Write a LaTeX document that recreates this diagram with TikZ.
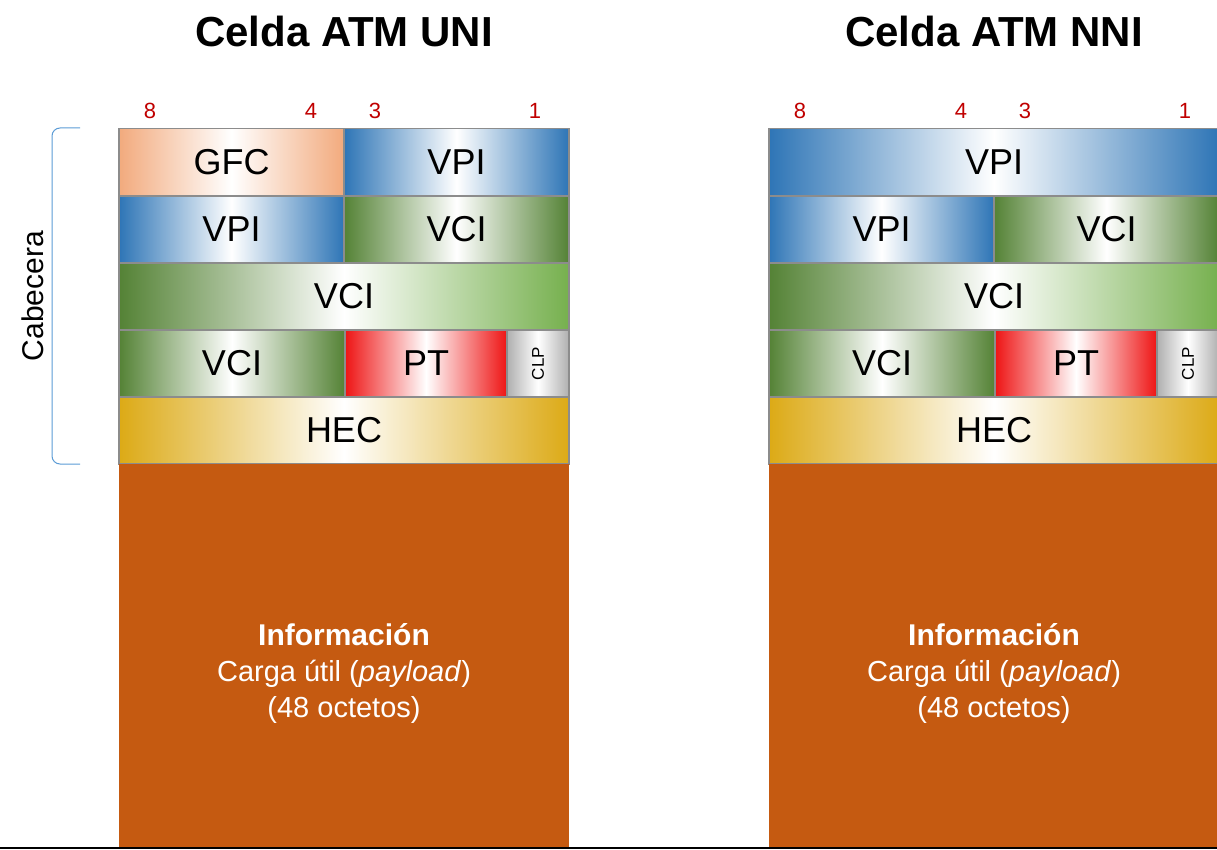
\documentclass[tikz,border=0pt]{standalone}
\usepackage{fontspec}
\setmainfont{Liberation Sans}
\usepackage{xcolor}
\usepackage{tikz}

\definecolor{gfccol}{RGB}{242,170,125}
\definecolor{vpicol}{RGB}{46,117,182}
\definecolor{vcicol}{RGB}{84,130,53}
\definecolor{vciclaro}{RGB}{118,176,78}
\definecolor{ptcol}{RGB}{238,20,20}
\definecolor{clpcol}{RGB}{175,175,175}
\definecolor{heccol}{RGB}{220,170,22}
\definecolor{cargacol}{RGB}{197,90,17}
\definecolor{bitcol}{RGB}{192,0,0}
\definecolor{llavecol}{RGB}{91,155,213}

\newcommand{\tam}[1]{\fontsize{#1}{#1}\selectfont}

\begin{document}
\begin{tikzpicture}[x=1pt, y=-1pt,
  campo/.style={draw=black!45, line width=1.2pt, inner sep=0pt, font=\tam{36}},
  gfc/.style={left color=gfccol, right color=gfccol, middle color=white},
  vpi/.style={left color=vpicol, right color=vpicol, middle color=white},
  vci/.style={left color=vcicol, right color=vcicol, middle color=white},
  vcilarga/.style={left color=vcicol, right color=vciclaro, middle color=white},
  pt/.style={left color=ptcol, right color=ptcol, middle color=white},
  clp/.style={left color=clpcol, right color=clpcol, middle color=white},
  hec/.style={left color=heccol, right color=heccol, middle color=white},
  bit/.style={text=bitcol, font=\tam{22}, anchor=base},
  titulo/.style={font=\bfseries\tam{42}, anchor=base},
  carga/.style={text=white, font=\tam{29}, anchor=base}]

\useasboundingbox (0,0) rectangle (1217,850);

% Both cells share the lower part of the header and the payload
\foreach \celda/\dx/\nombre in {uni/119/UNI, nni/769/NNI} {
\begin{scope}[shift={(\dx,0)}]

% Heading and bit numbers
\node[titulo] (\celda-tit) at (225,47) {Celda ATM \nombre};
\node[bit] (\celda-b8) at (31,119) {8};
\node[bit] (\celda-b4) at (192,119) {4};
\node[bit] (\celda-b3) at (256,119) {3};
\node[bit] (\celda-b1) at (416,119) {1};

% Octets 3 to 5
\node[campo, vcilarga, minimum width=450pt, minimum height=67pt] (\celda-vci3) at (225,296.5) {VCI};
\node[campo, vci, minimum width=226pt, minimum height=67pt] (\celda-vci4) at (113,363.5) {VCI};
\node[campo, pt, minimum width=162pt, minimum height=67pt] (\celda-pt) at (307,363.5) {PT};
\node[campo, clp, minimum width=62pt, minimum height=67pt] (\celda-clp) at (419,363.5) {\rotatebox{90}{\tam{17}CLP}};
\node[campo, hec, minimum width=450pt, minimum height=67pt] (\celda-hec) at (225,430.5) {HEC};

% Payload
\node[fill=cargacol, minimum width=450pt, minimum height=384pt, inner sep=0pt] (\celda-fondo) at (225,656) {};
\node[carga, font=\bfseries\tam{30}] (\celda-info) at (225,645) {Información};
\node[carga] (\celda-util) at (225,681) {Carga útil (\textit{payload})};
\node[carga] (\celda-oct) at (225,717) {(48 octetos)};

\end{scope}
}

% UNI: octets 1 and 2
\node[campo, gfc, minimum width=225pt, minimum height=67pt] (uni-gfc) at (231.5,162) {GFC};
\node[campo, vpi, minimum width=225pt, minimum height=67pt] (uni-vpi1) at (456.5,162) {VPI};
\node[campo, vpi, minimum width=225pt, minimum height=67pt] (uni-vpi2) at (231.5,229.5) {VPI};
\node[campo, vci, minimum width=225pt, minimum height=67pt] (uni-vci2) at (456.5,229.5) {VCI};

% NNI: octets 1 and 2
\node[campo, vpi, minimum width=450pt, minimum height=67pt] (nni-vpi1) at (994,162) {VPI};
\node[campo, vpi, minimum width=225pt, minimum height=67pt] (nni-vpi2) at (881.5,229.5) {VPI};
\node[campo, vci, minimum width=225pt, minimum height=67pt] (nni-vci2) at (1106.5,229.5) {VCI};

% Header brace
\draw[llavecol, line width=1pt, rounded corners=8pt] (80,128) -- (52,128) -- (52,464) -- (80,464);
\node[rotate=90, font=\tam{30}] (cabecera) at (33,296) {Cabecera};

% Bottom rule
\draw[line width=2pt] (0,848) -- (1217,848);

\end{tikzpicture}
\end{document}
